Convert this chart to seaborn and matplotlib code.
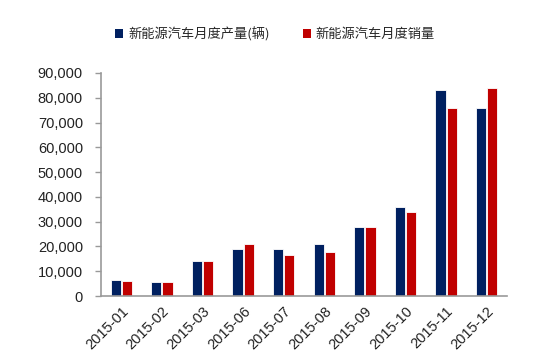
import pandas as pd
import matplotlib.pyplot as plt
import seaborn as sns
from matplotlib.patches import Patch

# Monthly NEV output vs sales, 2015
months = ["2015-01", "2015-02", "2015-03", "2015-06", "2015-07",
          "2015-08", "2015-09", "2015-10", "2015-11", "2015-12"]
production = [6300, 5800, 14100, 18900, 19000, 21000, 28000, 36100, 83300, 75700]
sales = [5950, 5650, 14000, 20900, 16600, 17800, 27800, 34000, 75700, 84000]
series_names = ["新能源汽车月度产量(辆)", "新能源汽车月度销量"]
colors = ["#002060", "#C00000"]

df = pd.DataFrame({
    "month": months * 2,
    "value": production + sales,
    "series": [series_names[0]] * len(months) + [series_names[1]] * len(months),
})

sns.set_style("white")
plt.rcParams["font.family"] = ["Liberation Sans", "Noto Sans CJK SC", "DejaVu Sans"]

fig = plt.figure(figsize=(5.37, 3.6), dpi=100)
ax = fig.add_axes([101 / 537, 1 - 296 / 360, 406 / 537, 223 / 360])

sns.barplot(data=df, x="month", y="value", hue="series", palette=colors,
            saturation=1, width=0.56, gap=0.1, edgecolor="white", linewidth=0.6,
            legend=False, ax=ax)

ax.set_ylim(0, 90000)
ax.set_yticks(range(0, 90001, 10000))
ax.set_yticklabels([f"{v:,}" for v in range(0, 90001, 10000)], fontsize=10.5, color="#222222")
ax.set_xlim(-0.5, len(months) - 0.5)
ax.set_xticks(range(len(months)))
ax.set_xticklabels(months, rotation=45, ha="right", rotation_mode="anchor",
                   fontsize=10.5, color="#222222")
ax.set_xticks([i - 0.5 for i in range(len(months) + 1)], minor=True)
ax.tick_params(axis="x", which="major", length=0, pad=6)
ax.tick_params(axis="x", which="minor", length=4, color="#999999", width=1)
ax.tick_params(axis="y", length=4, color="#999999", width=1, left=True, pad=9)
ax.set_xlabel("")
ax.set_ylabel("")

for side in ["top", "right"]:
    ax.spines[side].set_visible(False)
for side in ["left", "bottom"]:
    ax.spines[side].set_color("#999999")
    ax.spines[side].set_linewidth(1.2)

handles = [Patch(facecolor=c, edgecolor="none") for c in colors]
fig.legend(handles, series_names, loc="center", ncol=2, frameon=False,
           bbox_to_anchor=(275 / 537, 1 - 34 / 360),
           handlelength=0.6, handleheight=0.6, handletextpad=0.4,
           columnspacing=2.5, prop={"family": ["Noto Sans CJK SC", "DejaVu Sans"], "size": 9.5})

fig.savefig("out.png", dpi=100)
